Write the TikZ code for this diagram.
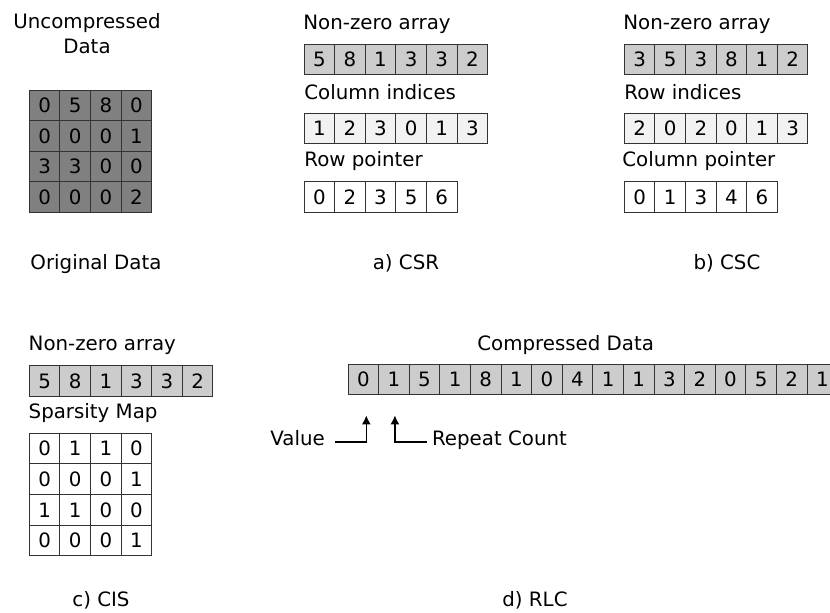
\documentclass[tikz,border=0pt]{standalone}
\usepackage{fontspec}
\setmainfont{DejaVu Sans}
\usetikzlibrary{calc,arrows.meta}
\definecolor{matgray}{HTML}{808080}
\definecolor{nzgray}{HTML}{CCCCCC}
\definecolor{idxgray}{HTML}{F2F2F2}

\begin{document}
\begin{tikzpicture}[x=0.5pt, y=-0.5pt,
    font=\fontsize{9.9}{12.5}\selectfont,
    cell/.style={draw=black!80, line width=0.5pt, minimum size=15.3pt, inner sep=0pt},
    lbl/.style={inner sep=0pt, anchor=base west},
    captxt/.style={inner sep=0pt, anchor=base},
    >={Latex[length=4.5pt,width=4.5pt]}]
	% 画布大小
	\useasboundingbox (0,0) rectangle (830,612);
	\clip (0,0) rectangle (830,612);

	% 原始数据(未压缩矩阵)
	\node[inner sep=0pt, anchor=north, align=center] (uncomp) at (87,13) {Uncompressed\\Data};
	\foreach \row [count=\r from 0] in {{0,5,8,0},{0,0,0,1},{3,3,0,0},{0,0,0,2}}
		\foreach \v [count=\c from 0] in \row
			\node[cell, fill=matgray] (orig\r\c) at (29.3+15.3+30.6*\c, 90+15.3+30.6*\r) {\v};
	\node[captxt] (origcap) at (96,269) {Original Data};

	% a) CSR
	\node[lbl] (csrnzlbl) at (303,29.3) {Non-zero array};
	\foreach \v [count=\i from 0] in {5,8,1,3,3,2}
		\node[cell, fill=nzgray] (csrnz\i) at (304+15.3+30.6*\i, 59.6) {\v};
	\node[lbl] (csrcollbl) at (304,99.3) {Column indices};
	\foreach \v [count=\i from 0] in {1,2,3,0,1,3}
		\node[cell, fill=idxgray] (csrcol\i) at (304+15.3+30.6*\i, 128.3) {\v};
	\node[lbl] (csrptrlbl) at (304,166.7) {Row pointer};
	\foreach \v [count=\i from 0] in {0,2,3,5,6}
		\node[cell, fill=white] (csrptr\i) at (304+15.3+30.6*\i, 197) {\v};
	\node[captxt] (csrcap) at (406,269) {a) CSR};

	% b) CSC
	\node[lbl] (cscnzlbl) at (623,29.3) {Non-zero array};
	\foreach \v [count=\i from 0] in {3,5,3,8,1,2}
		\node[cell, fill=nzgray] (cscnz\i) at (624.3+15.3+30.6*\i, 59.6) {\v};
	\node[lbl] (cscrowlbl) at (624,99.3) {Row indices};
	\foreach \v [count=\i from 0] in {2,0,2,0,1,3}
		\node[cell, fill=idxgray] (cscrow\i) at (624.3+15.3+30.6*\i, 128.3) {\v};
	\node[lbl] (cscptrlbl) at (622,166.7) {Column pointer};
	\foreach \v [count=\i from 0] in {0,1,3,4,6}
		\node[cell, fill=white] (cscptr\i) at (624.3+15.3+30.6*\i, 197) {\v};
	\node[captxt] (csccap) at (727,269) {b) CSC};

	% c) CIS
	\node[lbl] (cisnzlbl) at (28.3,350.7) {Non-zero array};
	\foreach \v [count=\i from 0] in {5,8,1,3,3,2}
		\node[cell, fill=nzgray] (cisnz\i) at (29.3+15.3+30.6*\i, 381) {\v};
	\node[lbl] (cismaplbl) at (28.3,418.3) {Sparsity Map};
	\foreach \row [count=\r from 0] in {{0,1,1,0},{0,0,0,1},{1,1,0,0},{0,0,0,1}}
		\foreach \v [count=\c from 0] in \row
			\node[cell, fill=white] (cismap\r\c) at (29.3+15.3+30.6*\c, 433.3+15.3+30.6*\r) {\v};
	\node[captxt] (ciscap) at (101,606) {c) CIS};

	% d) RLC
	\node[lbl] (rlclbl) at (477,350) {Compressed Data};
	\foreach \v [count=\i from 0] in {0,1,5,1,8,1,0,4,1,1,3,2,0,5,2,1}
		\node[cell, fill=nzgray] (rlc\i) at (348+15.3+30.6*\i, 379.6) {\v};
	\node[lbl] (val) at (270,445) {Value};
	\node[lbl] (rep) at (431.7,445) {Repeat Count};
	\draw[->, line width=0.7pt] ($(val.base east)+(10,-3)$) -| ($(rlc0.south)+(3,20)$);
	\draw[->, line width=0.7pt] ($(rep.base west)+(-5,-3)$) -| ($(rlc1.south)+(1,20)$);
	\node[captxt] (rlccap) at (535,606) {d) RLC};
\end{tikzpicture}
\end{document}
